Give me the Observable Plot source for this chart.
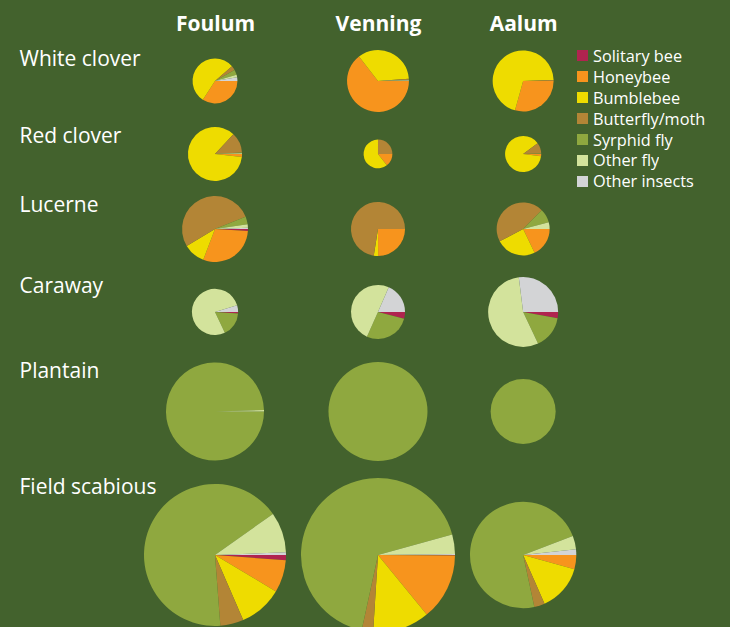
<!DOCTYPE html>
<html>
<head>
<meta charset="utf-8">
<script src="https://cdn.jsdelivr.net/npm/d3@7"></script>
<script src="https://cdn.jsdelivr.net/npm/@observablehq/plot@0.6"></script>
<style>
  html, body { margin: 0; padding: 0; background: #43622d; }
  #wrap { position: relative; width: 730px; height: 627px; overflow: hidden; background: #43622d; }
  #legend { position: absolute; left: 577px; top: 45.5px; }
  .lg-swatches { font-family: "Open Sans", sans-serif; font-size: 16.3px; color: #ffffff; margin: 0 !important; min-height: 0 !important; }
  .lg-swatch { height: 20.9px; display: flex; align-items: center; padding: 0 !important; margin: 0 !important; }
  .lg-swatch svg { margin-right: 5px !important; flex-shrink: 0; }
</style>
</head>
<body>
<div id="wrap"><div id="chart"></div><div id="legend"></div></div>
<script>
// ---- data ----
const sites = ["Foulum", "Venning", "Aalum"];
const crops = ["White clover", "Red clover", "Lucerne", "Caraway", "Plantain", "Field scabious"];
const groups = ["Solitary bee", "Honeybee", "Bumblebee", "Butterfly/moth", "Syrphid fly", "Other fly", "Other insects"];
const groupColors = ["#b0244f", "#f7941d", "#eedc00", "#b38536", "#8fa83f", "#d3e39c", "#d3d4d6"];

// shares (%) per site: Foulum, Venning, Aalum; columns follow `groups`
const whiteClover   = [[0, 34.1, 54.6, 3.1, 3.8, 1.7, 2.7], [0, 64.5, 34.3, 0.6, 0.3, 0, 0.3], [0, 29.3, 70.2, 0.5, 0, 0, 0]];
const redClover     = [[0, 1.8, 85.1, 12.2, 0.5, 0.4, 0], [0, 14.5, 60.5, 25, 0, 0, 0], [0, 2, 87.8, 9.7, 0.5, 0, 0]];
const lucerne       = [[1, 29.8, 10.6, 52.6, 3.7, 1.7, 0.6], [0, 24.9, 2.6, 72.5, 0, 0, 0], [0, 17.9, 24.4, 45.1, 8.5, 4.1, 0]];
const caraway       = [[1, 0, 0, 0, 17, 77.4, 4.6], [4.1, 0, 0, 0, 27.6, 49.8, 18.5], [2.9, 0, 0, 0, 15.1, 55, 27]];
const plantain      = [[0, 0, 0, 0, 99.5, 0.5, 0], [0, 0, 0, 0, 100, 0, 0], [0, 0, 0, 0, 100, 0, 0]];
const fieldScabious = [[1.2, 7.4, 9.9, 5.3, 66.4, 9.2, 0.6], [0.1, 14, 11.9, 2.4, 67.3, 4.1, 0.2], [0, 4.3, 14.1, 3.2, 72.5, 4.1, 1.7]];
const shares = [whiteClover, redClover, lucerne, caraway, plantain, fieldScabious];

// total visits per site: Foulum, Venning, Aalum
const totalWhiteClover   = [51, 97, 94];
const totalRedClover     = [74, 21, 33];
const totalLucerne       = [110, 74, 71];
const totalCaraway       = [54, 74, 124];
const totalPlantain      = [243, 248, 107];
const totalFieldScabious = [510, 600, 286];
const totals = [totalWhiteClover, totalRedClover, totalLucerne, totalCaraway, totalPlantain, totalFieldScabious];

// ---- build slices ----
const slices = [];
crops.forEach((crop, ci) => {
  sites.forEach((site, si) => {
    const arcs = d3.pie().sort(null).startAngle(Math.PI / 2).endAngle(Math.PI / 2 + 2 * Math.PI)(shares[ci][si]);
    arcs.forEach((a, gi) => {
      if (a.value > 0) slices.push({crop, site, group: groups[gi], total: totals[ci][si], a0: a.startAngle, a1: a.endAngle});
    });
  });
});

// ---- layout from the radius scale ----
const maxTotal = d3.max(totals.flat());
const rOpts = {type: "sqrt", domain: [0, maxTotal], range: [0, 77]};
const rScale = Plot.scale({r: rOpts});
const gap = 15;
const colR = sites.map((s, si) => d3.max(crops, (c, ci) => rScale.apply(totals[ci][si])));
const rowR = crops.map((c, ci) => d3.max(totals[ci], (t) => rScale.apply(t)));
const xCenters = []; { let e = 144; colR.forEach((r) => { xCenters.push(e + r); e += 2 * r + gap; }); }
const yCenters = []; { let e = 50; rowR.forEach((r, i) => { yCenters.push(e + r); e += 2 * r + gap + (i === rowR.length - 2 ? 2 : 0); }); }

// ---- custom pie-slice mark ----
class PieSlice extends Plot.Mark {
  constructor(data, {x, y, r, fill, a0, a1, ...options} = {}) {
    super(data, {
      x: {value: x, scale: "x"},
      y: {value: y, scale: "y"},
      r: {value: r, scale: "r"},
      fill: {value: fill, scale: "color"},
      a0: {value: a0},
      a1: {value: a1}
    }, options, {});
  }
  render(index, scales, values) {
    const {x: X, y: Y, r: R, fill: F, a0: A0, a1: A1} = values;
    const arc = d3.arc();
    const g = d3.create("svg:g");
    for (const i of index) {
      g.append("path")
        .attr("transform", `translate(${X[i]},${Y[i]})`)
        .attr("d", arc({innerRadius: 0, outerRadius: R[i], startAngle: A0[i], endAngle: A1[i]}))
        .attr("fill", F[i]);
    }
    return g.node();
  }
}

const font = "'Open Sans', sans-serif";
const chart = Plot.plot({
  width: 730,
  height: 627,
  margin: 0,
  style: {background: "#43622d", fontFamily: font},
  x: {type: "ordinal", domain: sites, range: xCenters, axis: null},
  y: {type: "ordinal", domain: crops, range: yCenters, axis: null},
  r: rOpts,
  color: {domain: groups, range: groupColors},
  marks: [
    new PieSlice(slices, {x: "site", y: "crop", r: "total", fill: "group", a0: "a0", a1: "a1"}),
    Plot.text(sites, {x: (d) => d, frameAnchor: "top", dy: 16, lineAnchor: "top", fill: "white", fontWeight: "bold", fontSize: 21}),
    ...crops.map((c, ci) => Plot.text([c], {y: (d) => d, frameAnchor: "left", dx: 19, dy: -rowR[ci] + 1, lineAnchor: "top", textAnchor: "start", fill: "white", fontSize: 21}))
  ]
});
document.getElementById("chart").appendChild(chart);
const leg = chart.legend("color", {legend: "swatches", columns: 1, swatchSize: 11, className: "lg"});
document.getElementById("legend").appendChild(leg);
</script>
</body>
</html>
